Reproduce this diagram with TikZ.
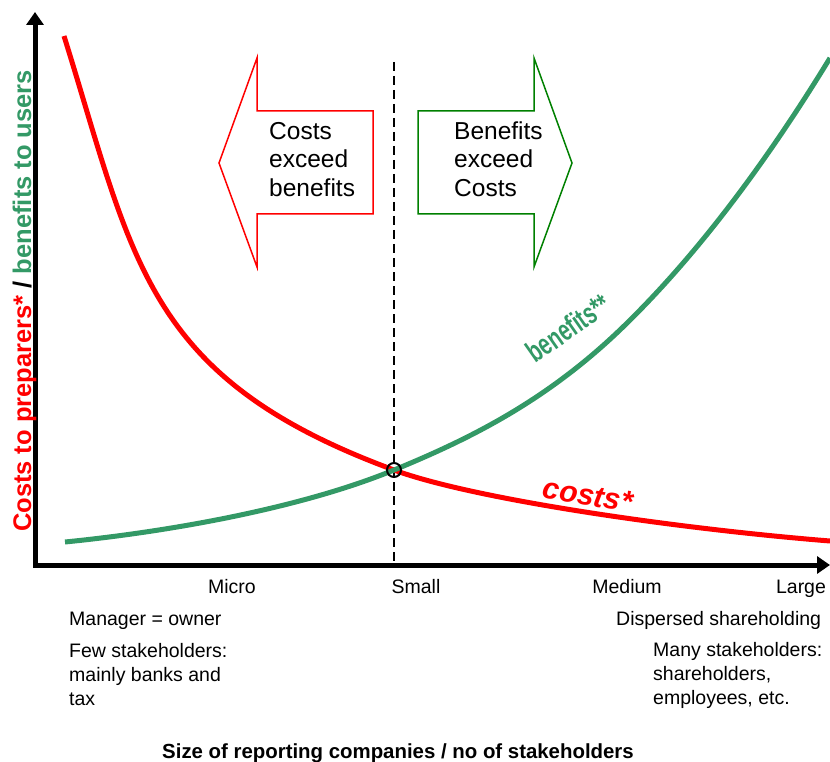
\documentclass[tikz,border=0pt]{standalone}
\usepackage{fontspec}
\setmainfont{Liberation Sans}
\newfontfamily\narrowfont[FakeStretch=0.68]{Liberation Sans}
\usetikzlibrary{arrows.meta}
\definecolor{cred}{RGB}{255,0,0}
\definecolor{cgreen}{RGB}{51,153,102}
\definecolor{agreen}{RGB}{0,128,0}
\begin{document}
\begin{tikzpicture}[x=1pt,y=-1pt,
  lbl/.style={inner sep=0pt, font=\fontsize{19.5}{24}\selectfont, align=left},
  arrtxt/.style={inner sep=0pt, font=\fontsize{24.5}{29}\selectfont, align=left, anchor=base west},
  axis/.style={line width=5pt, line join=miter},
  curvered/.style={line width=5pt, cred},
  curvegreen/.style={line width=5pt, cgreen},
  divider/.style={line width=1.5pt, dash pattern=on 9pt off 5pt},
  bigarrow/.style={line width=1.5pt, line join=miter}
]
\useasboundingbox (0,0) rectangle (830,762);

% axes
\coordinate (ytop) at (35,12);
\coordinate (origin) at (35,565);
\coordinate (xend) at (830,565);
\draw[axis, {Triangle[length=13pt,width=17pt]}-{Triangle[length=13pt,width=17pt]}] (ytop) -- (origin) -- (xend);

% divider
\coordinate (dtop) at (394,62);
\coordinate (dbot) at (394,563);
\draw[divider] (dtop) -- (dbot);

% big arrows
\draw[bigarrow, cred] (219,163) -- (257,58) -- (257,111) -- (373,111) -- (373,214) -- (257,214) -- (257,267) -- cycle;
\draw[bigarrow, agreen] (418,111) -- (534,111) -- (534,58) -- (572,163) -- (534,267) -- (534,214) -- (418,214) -- cycle;
\node[arrtxt] (left) at (269,197) {Costs\\exceed\\benefits};
\node[arrtxt] (right) at (454,197) {Benefits\\exceed\\Costs};

% curves
\coordinate (cross0) at (394,470);
\coordinate (rstart) at (64,36);
\coordinate (rend) at (830,541);
\coordinate (gstart) at (65,542);
\coordinate (gmid) at (623,327);
\coordinate (gend) at (830,58);
\draw[curvered] (rstart) .. controls (134,260) and (144,378) .. (cross0)
                         .. controls (474,499.6) and (680,529) .. (rend);
\draw[curvegreen] (gstart) .. controls (175,531) and (304,507) .. (cross0)
                           .. controls (470,438.8) and (547,400.7) .. (gmid)
                           .. controls (692,260) and (761,171) .. (gend);

\node[circle, draw, line width=2pt, minimum size=14pt, inner sep=0pt] (cross) at (cross0) {};

% curve labels
\node[inner sep=0pt, cred, rotate=-10, font=\bfseries\itshape\fontsize{30}{36}\selectfont] (costs) at (588,495) {costs*};
\node[inner sep=0pt, cgreen, rotate=35, font=\narrowfont\bfseries\fontsize{30}{36}\selectfont] (ben) at (568,328) {benefits**};

% y label
\node[inner sep=0pt, rotate=90, anchor=base, font=\bfseries\fontsize{25.5}{30}\selectfont] (ylab) at (31,301) {\textcolor{cred}{Costs to preparers*} / \textcolor{cgreen}{benefits to users}};

% x labels
\node[lbl, anchor=base] (micro) at (232,593) {Micro};
\node[lbl, anchor=base] (small) at (416,593) {Small};
\node[lbl, anchor=base] (medium) at (627,593) {Medium};
\node[lbl, anchor=base] (large) at (801,593) {Large};
\node[lbl, anchor=base west] (mgr) at (69,625) {Manager = owner};
\node[lbl, anchor=base west] (few) at (69,705) {Few stakeholders:\\mainly banks and\\tax};
\node[lbl, anchor=base west] (disp) at (616,625) {Dispersed shareholding};
\node[lbl, anchor=base west] (many) at (653,704) {Many stakeholders:\\shareholders,\\employees, etc.};
\node[inner sep=0pt, anchor=base, font=\bfseries\fontsize{20.4}{24}\selectfont] (title) at (398,758) {Size of reporting companies / no of stakeholders};
\end{tikzpicture}
\end{document}
